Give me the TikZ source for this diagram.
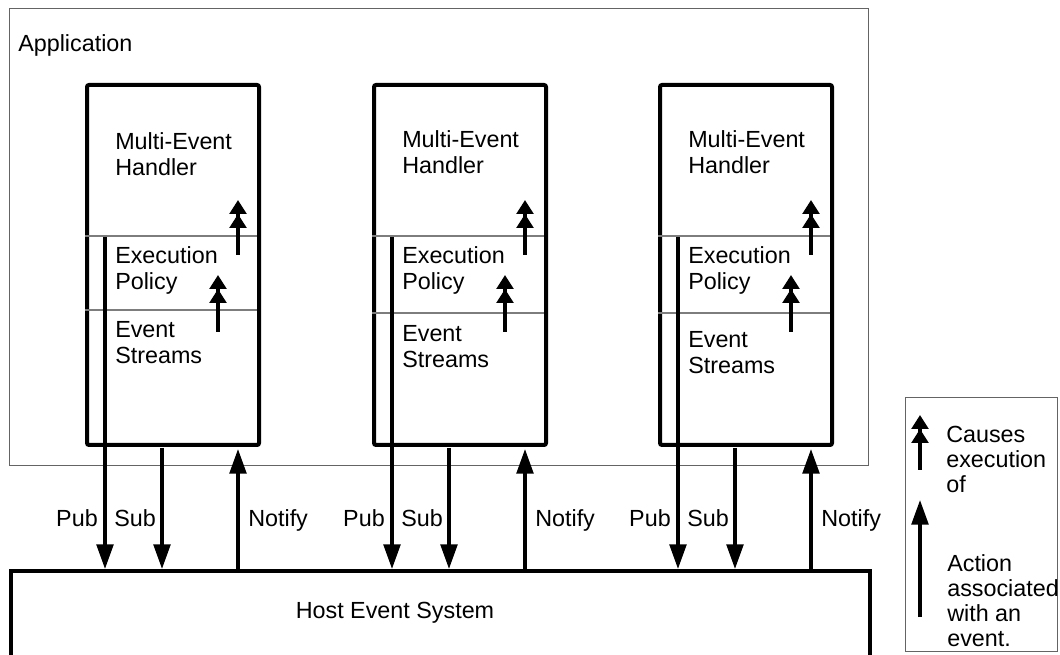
\documentclass[tikz,border=0pt]{standalone}
\usepackage{fontspec}
\setmainfont{Liberation Sans}
\usetikzlibrary{arrows.meta}
\definecolor{linegray}{RGB}{100,100,100}
\definecolor{secgray}{RGB}{125,125,125}
\begin{document}
\begin{tikzpicture}[x=0.75pt,y=-0.75pt,
  lbl/.style={inner sep=0pt, font=\fontsize{17.5pt}{19.5pt}\selectfont, align=left},
  hbox/.style={draw, line width=3pt, rounded corners=1.5pt, minimum width=129pt, minimum height=270pt, inner sep=0pt, anchor=north west},
  sect/.style={draw=secgray, line width=0.8pt},
  bigarrow/.style={line width=2.6pt, -{Triangle[length=18.5pt,width=12.5pt]}},
  dblarrow/.style={line width=2.6pt, -{Triangle[length=10.5pt,width=12.5pt,sep=0pt]Triangle[length=10.5pt,width=12.5pt,sep=0pt]}},
  ]
\useasboundingbox (0,0) rectangle (1060,655);
% application frame
\node[draw=linegray, line width=1pt, anchor=north west, minimum width=644.25pt, minimum height=342.75pt, inner sep=0pt] (app) at (9,8) {};
\node[lbl, anchor=base west] (applbl) at (18,52) {Application};
% host event system
\node[draw, line width=3pt, anchor=north west, minimum width=644.25pt, minimum height=100pt, inner sep=0pt] (host) at (9,569) {};
\node[lbl] (hostlbl) at (395,613) {Host Event System};
% handlers (label positions give the baseline of the LAST line)
\foreach \i/\L/\sec/\ev/\mb in {1/85/310/364/176, 2/372/313/368/174, 3/658/313/374/174}{
  \pgfmathsetmacro{\R}{\L+172}
  \pgfmathsetmacro{\P}{\L+20}
  \pgfmathsetmacro{\S}{\L+77}
  \pgfmathsetmacro{\N}{\L+153}
  \pgfmathsetmacro{\B}{\L+133}
  \pgfmathsetmacro{\T}{\L+30}
  \node[hbox] (h\i) at (\L,83) {};
  \coordinate (s1l\i) at (\L,236); \coordinate (s1r\i) at (\R,236);
  \coordinate (s2l\i) at (\L,\sec); \coordinate (s2r\i) at (\R,\sec);
  \draw[sect] (s1l\i) -- (s1r\i);
  \draw[sect] (s2l\i) -- (s2r\i);
  \node[lbl, anchor=base west] (meh\i) at (\T,\mb) {Multi-Event\\Handler};
  \node[lbl, anchor=base west] (ep\i) at (\T,290) {Execution\\Policy};
  \node[lbl, anchor=base west] (es\i) at (\T,\ev) {Event\\Streams};
  % inner causal arrows
  \coordinate (a1s\i) at (\N,255); \coordinate (a1e\i) at (\N,200);
  \coordinate (a2s\i) at (\B,332); \coordinate (a2e\i) at (\B,275);
  \draw[dblarrow] (a1s\i) -- (a1e\i);
  \draw[dblarrow] (a2s\i) -- (a2e\i);
  % pub / sub / notify
  \coordinate (pubs\i) at (\P,237);
  \coordinate (subs\i) at (\S,448);
  \coordinate (note\i) at (\N,449);
  \draw[bigarrow] (pubs\i) -- (pubs\i |- host.north);
  \draw[bigarrow] (subs\i) -- (subs\i |- host.north);
  \draw[bigarrow] (note\i |- host.north) -- (note\i);
  \node[lbl, anchor=base east] (pub\i) at ({\P-7},527) {Pub};
  \node[lbl, anchor=base west] (sub\i) at ({\P+9},527) {Sub};
  \node[lbl, anchor=base west] (notify\i) at ({\N+10},527) {Notify};
}
% legend
\node[draw=linegray, line width=1pt, anchor=north west, minimum width=114pt, minimum height=190.5pt, inner sep=0pt] (legend) at (905,397) {};
\coordinate (l1s) at (920,470); \coordinate (l1e) at (920,415);
\coordinate (l2s) at (920,617); \coordinate (l2e) at (920,500);
\draw[dblarrow] (l1s) -- (l1e);
\draw[bigarrow] (l2s) -- (l2e);
\node[lbl, font=\fontsize{17.5pt}{18.75pt}\selectfont, anchor=base west] (causes) at (946,493) {Causes\\execution\\of};
\node[lbl, font=\fontsize{17.5pt}{18.75pt}\selectfont, anchor=base west] (action) at (947,646) {Action\\associated\\with an\\event.};
\end{tikzpicture}
\end{document}
